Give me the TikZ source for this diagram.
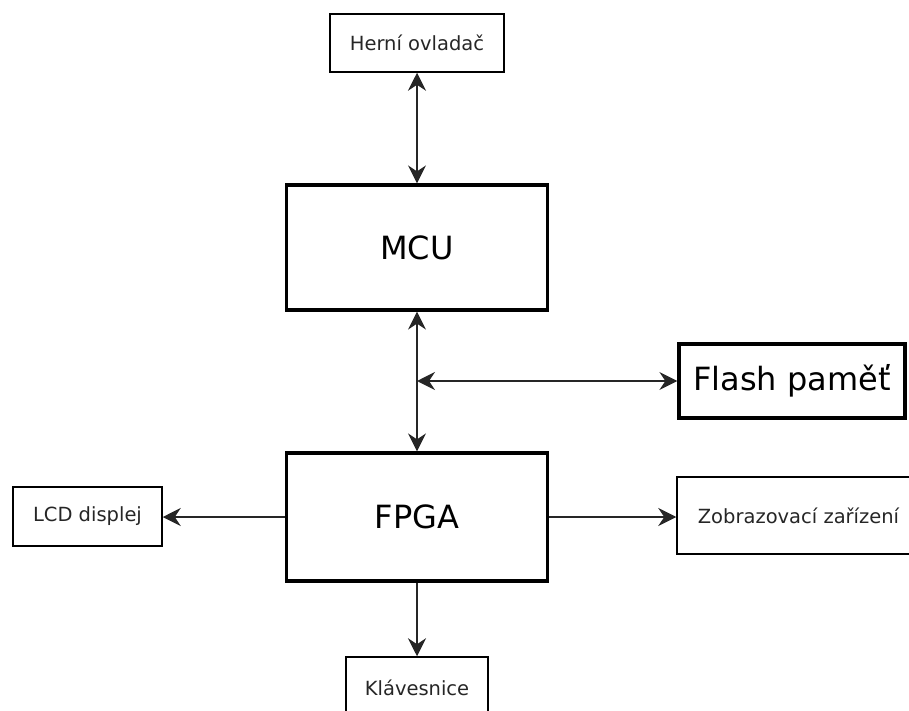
\documentclass[tikz,border=0pt]{standalone}
\usepackage{fontspec}
\setmainfont{DejaVu Sans}
\usetikzlibrary{arrows.meta}
\begin{document}
\begin{tikzpicture}[x=1pt,y=-1pt,
  bigbox/.style={draw=black,line width=3.2pt,minimum width=#1,inner sep=0pt,font=\fontsize{32}{38}\selectfont},
  smallbox/.style={draw=black,line width=1.5pt,inner sep=0pt,text=black!85,font=\fontsize{19.5}{23}\selectfont},
  tipA/.tip={Stealth[length=18pt,width=18pt,inset=6pt]},
  conn/.style={line width=1.5pt,draw=black!85,arrows={tipA-tipA}},
  conn1/.style={line width=1.5pt,draw=black!85,arrows={-tipA}}]
\useasboundingbox (0,0) rectangle (909,711);
\clip (0,0) rectangle (909,711);
\node[smallbox,minimum width=174pt,minimum height=58pt] (hern) at (417,43) {Herní ovladač};
\node[bigbox=261pt,minimum height=125pt] (mcu) at (417,247.5) {MCU};
\node[bigbox=226pt,minimum height=74pt] (flash) at (792,381) {Flash paměť};
\node[bigbox=261pt,minimum height=128pt] (fpga) at (417,517) {FPGA};
\node[smallbox,minimum width=149pt,minimum height=59pt] (lcd) at (87.5,516.5) {LCD displej};
\node[smallbox,minimum width=243pt,minimum height=77pt] (zob) at (798.5,515.5) {Zobrazovací zařízení};
\node[smallbox,minimum width=142pt,minimum height=62pt] (klav) at (417,688) {Klávesnice};
\coordinate (j) at (417,381);
\draw[conn] (hern.south) -- (mcu.north);
\draw[conn] (mcu.south) -- (fpga.north);
\draw[conn] (j) -- (flash.west);
\draw[conn1] (fpga.west) -- (fpga.west -| lcd.east);
\draw[conn1] (fpga.east) -- (fpga.east -| zob.west);
\draw[conn1] (fpga.south) -- (klav.north);
\end{tikzpicture}
\end{document}
